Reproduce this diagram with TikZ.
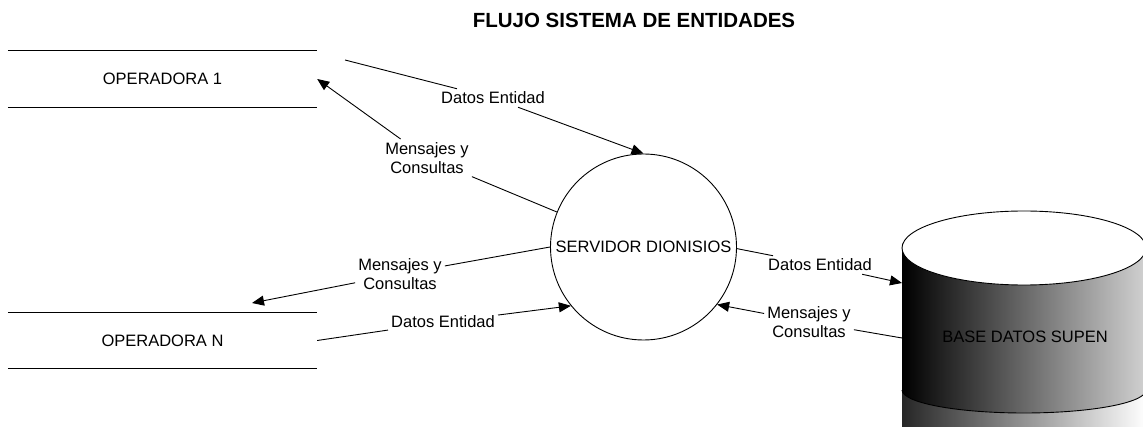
\documentclass[tikz,border=0pt]{standalone}
\usepackage{fontspec}
\setmainfont{Liberation Sans}
\usetikzlibrary{arrows.meta}
\begin{document}
\begin{tikzpicture}[x=1pt,y=-1pt,
  txt/.style={font=\fontsize{16.5}{19.5}\selectfont, align=center},
  lab/.style={txt, inner sep=3pt},
  flow/.style={line width=0.9pt, -{Triangle[length=12pt,width=10pt]}},
  plain/.style={line width=0.9pt},
  store/.style={txt, minimum width=309pt, minimum height=56pt, inner sep=0pt}]
\useasboundingbox (0,0) rectangle (1143,427);
% title
\node[font=\bfseries\fontsize{20.5}{24}\selectfont] (title) at (634,20) {FLUJO SISTEMA DE ENTIDADES};
% data stores
\node[store] (op1) at (162.5,79) {OPERADORA 1};
\draw[plain] (op1.north west) -- (op1.north east) (op1.south west) -- (op1.south east);
\node[store, minimum height=55pt] (opN) at (162.5,340.5) {OPERADORA N};
\draw[plain] (opN.north west) -- (opN.north east) (opN.south west) -- (opN.south east);
% server
\node[txt, draw, circle, line width=0.9pt, minimum size=186pt, inner sep=0pt] (srv) at (643.5,247) {SERVIDOR DIONISIOS};
% database cylinder
\begin{scope}
\clip (0,0) rectangle (1143,427);
\shade[left color=black, right color=black!18] (902,248) rectangle (1146,427);
\shade[left color=black!85, right color=white] (902,390) arc[start angle=180, end angle=0, x radius=122, y radius=23] -- (1146,427) -- (902,427) -- cycle;
\draw[plain, fill=white] (1024,248) ellipse [x radius=122, y radius=37];
\draw[plain] (902,390) arc[start angle=180, end angle=0, x radius=122, y radius=23];
\end{scope}
\node[txt] (db) at (1025,337) {BASE DATOS SUPEN};
\coordinate (dbin) at (902,283);
\coordinate (dbout) at (902,338);
% labels
\node[lab] (l1) at (493,98) {Datos Entidad};
\node[lab] (l2) at (427,158) {Mensajes y\\Consultas};
\node[lab] (l3) at (400,274) {Mensajes y\\Consultas};
\node[lab] (l4) at (443,322) {Datos Entidad};
\node[lab] (l5) at (820,265) {Datos Entidad};
\node[lab] (l6) at (809,322) {Mensajes y\\Consultas};
\coordinate (s1) at (345,60);
\coordinate (t3) at (252,303);
% connectors
\draw[flow] (s1) -- (l1) -- (srv.90);
\draw[flow] (srv.158) -- (l2) -- (op1.east);
\draw[flow] (srv.180) -- (l3) -- (t3);
\draw[flow] (opN.east) -- (l4) -- (srv.219);
\draw[flow] (srv.-1) -- (l5) -- (dbin);
\draw[flow] (dbout) -- (l6) -- (srv.-38);
\end{tikzpicture}
\end{document}
